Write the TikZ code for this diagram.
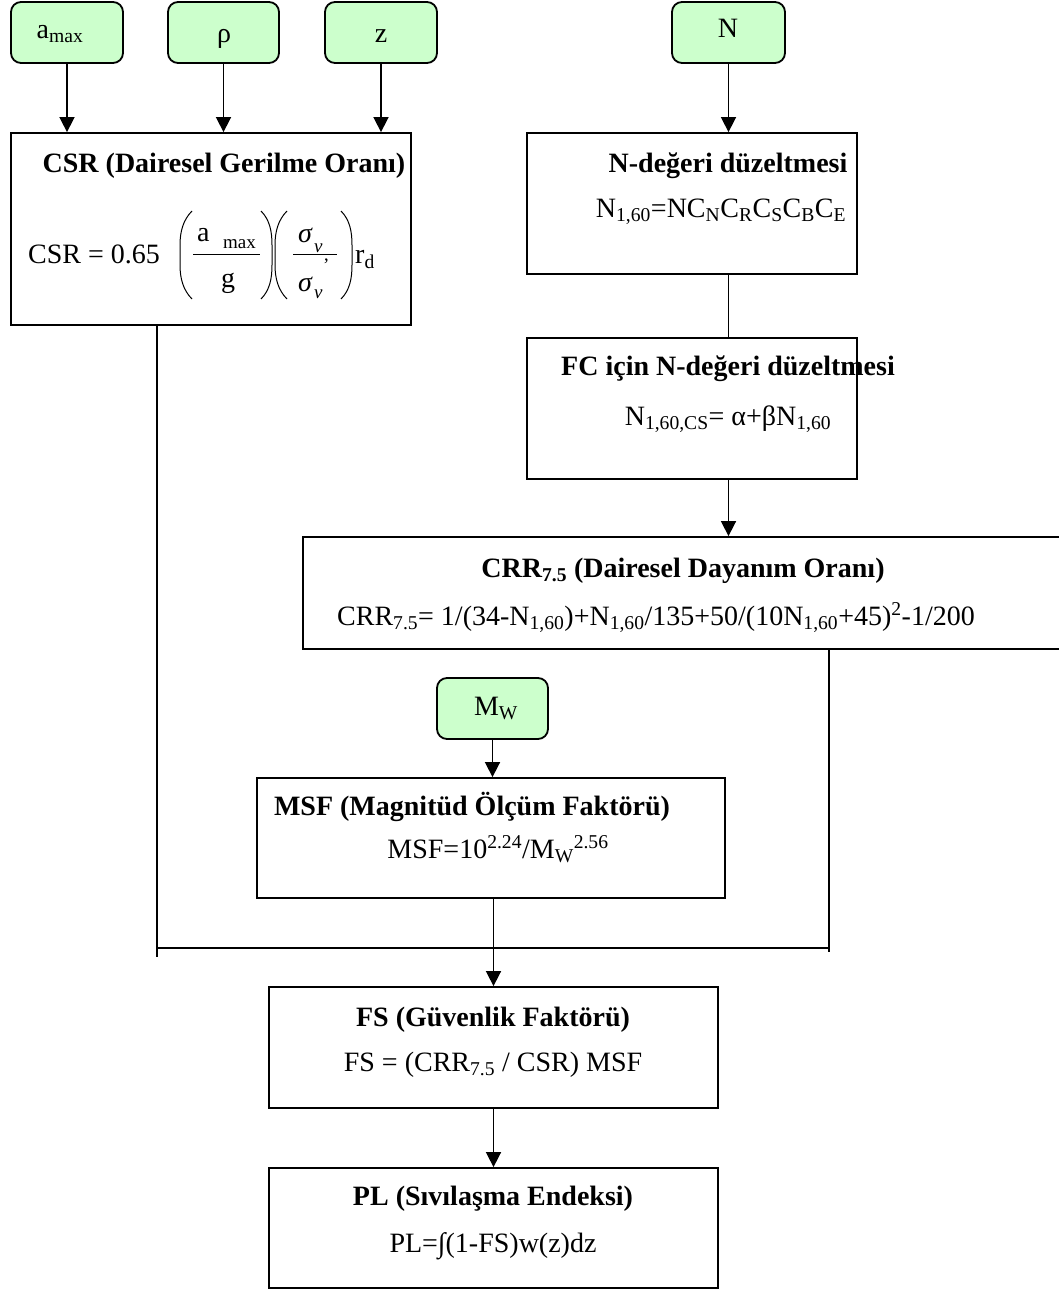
\documentclass[tikz,border=0pt]{standalone}
\usepackage{fontspec}
\setmainfont{Liberation Serif}
\usetikzlibrary{arrows.meta}
\definecolor{ingreen}{HTML}{CCFFCC}
\newcommand\bigf{\fontsize{28}{32}\selectfont}
\newcommand\smallf{\fontsize{19}{20}\selectfont}
\begin{document}
\begin{tikzpicture}[x=1pt,y=-1pt,font=\bigf,
  box/.style={draw,line width=1.8pt,inner sep=0pt},
  inbox/.style={box,rounded corners=10pt,fill=ingreen},
  txt/.style={inner sep=0pt,anchor=base},
  ttl/.style={txt,font=\bigf\bfseries},
  arr/.style={line width=1.6pt,-{Triangle[length=15pt,width=15pt]}},
  ln/.style={line width=1.6pt},
  fpart/.style={line width=1pt}]
\useasboundingbox (0,0) rectangle (1059,1290);

% input boxes
\node[inbox,minimum width=112pt,minimum height=61pt] (amax) at (67,32.5) {};
\node[inbox,minimum width=111pt,minimum height=61pt] (rho) at (223.5,32.5) {};
\node[inbox,minimum width=112pt,minimum height=61pt] (zb) at (381,32.5) {};
\node[inbox,minimum width=113pt,minimum height=61pt] (nb) at (728.5,32.5) {};
\node[inbox,minimum width=111pt,minimum height=61pt] (mw) at (492.5,708.5) {};
\node[txt] (amaxT) at (60,39) {a\textsubscript{max}};
\node[txt] (rhoT) at (224,43) {ρ};
\node[txt] (zT) at (381,43) {z};
\node[txt] (nT) at (728,38) {N};
\node[txt] (mwT) at (496,715) {M\textsubscript{W}};

% process boxes
\node[box,minimum width=400pt,minimum height=192pt] (csr) at (211,229) {};
\node[box,minimum width=330pt,minimum height=141pt] (ndz) at (692,203.5) {};
\node[box,minimum width=330pt,minimum height=141pt] (fc) at (692,408.5) {};
\node[box,minimum width=762pt,minimum height=112pt] (crr) at (684,593) {};
\node[box,minimum width=468pt,minimum height=120pt] (msf) at (491,838) {};
\node[box,minimum width=449pt,minimum height=121pt] (fs) at (493.5,1047.5) {};
\node[box,minimum width=449pt,minimum height=120pt] (pl) at (493.5,1228) {};

% CSR texts and formula
\node[ttl] (csrT) at (224,172) {CSR (Dairesel Gerilme Oranı)};
\node[txt,anchor=base west] (csrF) at (28,263) {CSR = 0.65};
\node[txt,anchor=base west] (fa) at (197,241) {a};
\node[txt,anchor=base west,font=\smallf] (fmax) at (223,248) {max};
\node[txt] (fg) at (228,287) {g};
\node[txt,anchor=base west] (fsn) at (298,242) {\itshape σ};
\node[txt,anchor=base west,font=\smallf\itshape] (fsnv) at (314,252) {v};
\node[txt,anchor=base west] (fsd) at (298,291) {\itshape σ};
\node[txt,anchor=base west,font=\smallf\itshape] (fsdv) at (314,298) {v};
\node[txt,anchor=base west,font=\smallf] (fprime) at (323,271) {'};
\node[txt,anchor=base west] (frd) at (355,263) {r\textsubscript{d}};
\draw[fpart] (193,254) -- (260,254);
\draw[fpart] (293,254) -- (337,254);
\draw[fpart] (192,211) .. controls (183,220) and (180,232) .. (180,245) -- (180,265) .. controls (180,278) and (183,290) .. (192,299);
\draw[fpart] (261,211) .. controls (270,220) and (272,232) .. (272,245) -- (272,265) .. controls (272,278) and (270,290) .. (261,299);
\draw[fpart] (287,211) .. controls (278,220) and (275,232) .. (275,245) -- (275,265) .. controls (275,278) and (278,290) .. (287,299);
\draw[fpart] (341,211) .. controls (350,220) and (352,232) .. (352,245) -- (352,265) .. controls (352,278) and (350,290) .. (341,299);

% other texts
\node[ttl] (ndzT) at (728,172) {N-değeri düzeltmesi};
\node[txt] (ndzF) at (721,217) {N\textsubscript{1,60}=NC\textsubscript{N}C\textsubscript{R}C\textsubscript{S}C\textsubscript{B}C\textsubscript{E}};
\node[ttl] (fcT) at (728,375) {FC için N-değeri düzeltmesi};
\node[txt] (fcF) at (728,425) {N\textsubscript{1,60,CS}= α+βN\textsubscript{1,60}};
\node[ttl] (crrT) at (683,577) {CRR\textsubscript{7.5} (Dairesel Dayanım Oranı)};
\node[txt] (crrF) at (656,625) {CRR\textsubscript{7.5}= 1/(34-N\textsubscript{1,60})+N\textsubscript{1,60}/135+50/(10N\textsubscript{1,60}+45)\textsuperscript{2}-1/200};
\node[ttl] (msfT) at (472,815) {MSF (Magnitüd Ölçüm Faktörü)};
\node[txt] (msfF) at (498,858) {MSF=10\textsuperscript{2.24}/M\textsubscript{W}\textsuperscript{2.56}};
\node[ttl] (fsT) at (493,1026) {FS (Güvenlik Faktörü)};
\node[txt] (fsF) at (493,1071) {FS = (CRR\textsubscript{7.5} / CSR) MSF};
\node[ttl] (plT) at (493,1205) {PL (Sıvılaşma Endeksi)};
\node[txt] (plF) at (493,1252) {PL=∫(1-FS)w(z)dz};

% connectors
\draw[arr] (amax.south) -- (amax.south |- csr.north);
\draw[arr] (rho.south) -- (rho.south |- csr.north);
\draw[arr] (zb.south) -- (zb.south |- csr.north);
\draw[arr] (nb.south) -- (nb.south |- ndz.north);
\draw[ln] (ndz.south -| nb) -- (fc.north -| nb);
\draw[arr] (fc.south -| nb) -- (crr.north -| nb);
\draw[arr] (mw.south) -- (mw.south |- msf.north);
\coordinate (jl) at (157,948);
\coordinate (jr) at (829,948);
\coordinate (lend) at (157,957);
\coordinate (rend) at (829,952);
\draw[ln] (csr.south -| jl) -- (lend);
\draw[ln] (crr.south -| jr) -- (rend);
\draw[ln] (jl) -- (jr);
\draw[arr] (fs.north |- msf.south) -- (fs.north);
\draw[arr] (fs.south) -- (pl.north);
\end{tikzpicture}
\end{document}
